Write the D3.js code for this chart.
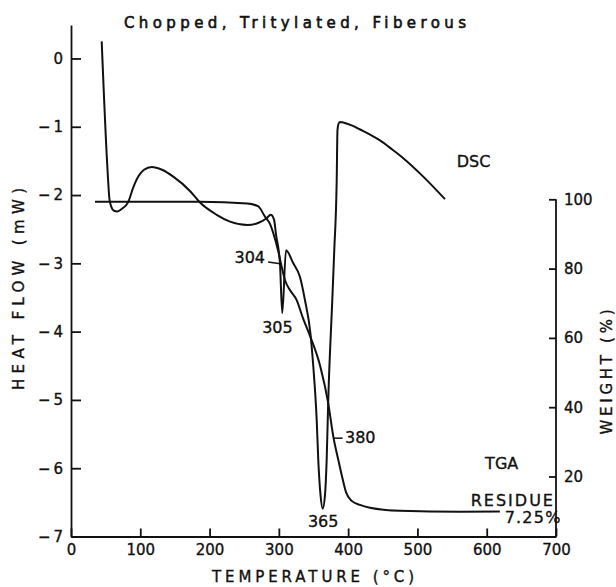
<!DOCTYPE html>
<html>
<head>
<meta charset="utf-8">
<script src="https://cdn.jsdelivr.net/npm/d3@7"></script>
<style>
  body { margin: 0; background: #fff; }
  text { font-family: "DejaVu Sans", sans-serif; fill: #111; stroke: #111; stroke-width: 0.35px; }
</style>
</head>
<body>
<div id="chart"></div>
<script>
// DSC trace: temperature (C) and heat flow (mW)
const dscTemp = [44.3, 52.7, 55.5, 58.5, 62, 66.8, 73.6, 82.7, 89.5, 97.1, 105.4, 116.5, 131.3, 147.6, 171.7, 186.2, 210.3, 229.5, 254.7, 269.9, 282.4, 288.2, 293, 295.9, 301.6, 304.9, 310.3, 320.8, 330.5, 337.7, 345.5, 349.7, 354.6, 356.9, 360.1, 363.3, 366.6, 369, 371.3, 377.1, 380, 383.5, 384.6, 386, 388.2, 394, 405, 417.1, 431, 446, 462, 479.6, 508.4, 539.8];
const dscFlow = [0.25, -1.63, -2.06, -2.18, -2.23, -2.24, -2.20, -2.10, -1.90, -1.73, -1.63, -1.59, -1.63, -1.73, -1.94, -2.11, -2.29, -2.39, -2.44, -2.41, -2.34, -2.29, -2.36, -2.58, -3.00, -3.73, -2.81, -3.00, -3.20, -3.54, -4.02, -4.51, -5.29, -5.88, -6.39, -6.59, -6.39, -5.88, -5.00, -3.54, -2.80, -1.78, -1.05, -0.96, -0.93, -0.94, -0.98, -1.04, -1.11, -1.20, -1.32, -1.46, -1.73, -2.06];

// TGA trace: temperature (C) and weight (%)
const tgaTemp = [34.6, 186.2, 254.7, 269.9, 280, 287.2, 292, 299.2, 304.1, 308.8, 316, 325.7, 334.8, 345.5, 359.9, 371.3, 378.6, 385.8, 391.1, 396.9, 405.5, 417.1, 431.5, 474.8, 561.4, 619];
const tgaWeight = [99.3, 99.3, 98.8, 98.0, 95.0, 92.9, 90.2, 84.9, 80.5, 76.7, 73.8, 70.9, 65.7, 60.3, 51.7, 41.1, 31.5, 24.8, 20.1, 15.5, 12.9, 11.8, 11.0, 10.1, 9.8, 9.9];

const tempTicks = [0, 100, 200, 300, 400, 500, 600, 700];
const flowTicks = [0, -1, -2, -3, -4, -5, -6, -7];
const weightTicks = [20, 40, 60, 80, 100];

// annotations: [text, temperature, heat flow, anchor]
const notes = [
  ["304", 280, -2.91, "end"],
  ["305", 298, -3.93, "middle"],
  ["380", 395.4, -5.54, "start"],
  ["365", 364, -6.78, "middle"],
  ["DSC", 581, -1.50, "middle"],
  ["TGA", 621.6, -5.93, "middle"]
];

const width = 616, height = 587;

const svg = d3.select("#chart").append("svg")
  .attr("width", width)
  .attr("height", height);

const x = d3.scaleLinear().domain([0, 700]).range([71, 556]);
const yL = d3.scaleLinear().domain([-7, 0.49]).range([536.5, 25]);
const yR = d3.scaleLinear().domain([0, 100]).range([545.8, 199.3]);

// bottom axis, ticks point inward
const xAxis = svg.append("g")
  .attr("transform", "translate(0," + yL(-7) + ")")
  .call(d3.axisBottom(x).tickValues(tempTicks).tickSize(-8).tickSizeOuter(0).tickPadding(8));

// left axis
const yAxisL = svg.append("g")
  .attr("transform", "translate(" + x(0) + ",0)")
  .call(d3.axisLeft(yL).tickValues(flowTicks).tickSize(-10).tickSizeOuter(0).tickPadding(8)
    .tickFormat(d => d === 0 ? "0" : "\u2212\u2009" + Math.abs(d)));

// right axis, line only from 100% down to the bottom axis
const yAxisR = svg.append("g")
  .attr("transform", "translate(" + x(700) + ",0)")
  .call(d3.axisRight(yR).tickValues(weightTicks).tickSize(-7).tickSizeOuter(0).tickPadding(8));
yAxisR.select(".domain").remove();
yAxisR.append("line")
  .attr("y1", yR(100)).attr("y2", yL(-7))
  .attr("stroke", "#111").attr("stroke-width", 1.8);

[xAxis, yAxisL, yAxisR].forEach(g => {
  g.selectAll("path, line").attr("stroke", "#111").attr("stroke-width", 1.8);
  g.selectAll("text").attr("font-family", "DejaVu Sans").attr("font-size", 15).attr("fill", "#111");
});

// curves
const line = d3.line().curve(d3.curveMonotoneX);

svg.append("path")
  .attr("d", line(dscTemp.map((t, i) => [x(t), yL(dscFlow[i])])))
  .attr("fill", "none").attr("stroke", "#111").attr("stroke-width", 2);

svg.append("path")
  .attr("d", line(tgaTemp.map((t, i) => [x(t), yR(tgaWeight[i])])))
  .attr("fill", "none").attr("stroke", "#111").attr("stroke-width", 2);

// leader lines
svg.append("line")
  .attr("x1", x(284.5)).attr("y1", yL(-2.98)).attr("x2", x(304.5)).attr("y2", yL(-3.01))
  .attr("stroke", "#111").attr("stroke-width", 1.5);
svg.append("line")
  .attr("x1", x(378.6)).attr("y1", yL(-5.56)).attr("x2", x(392)).attr("y2", yL(-5.56))
  .attr("stroke", "#111").attr("stroke-width", 1.5);

svg.selectAll(".note")
  .data(notes)
  .enter()
  .append("text")
  .attr("class", "note")
  .attr("x", d => x(d[1]))
  .attr("y", d => yL(d[2]))
  .attr("dy", "0.36em")
  .attr("text-anchor", d => d[3])
  .attr("font-size", 16)
  .text(d => d[0]);

svg.append("text")
  .attr("x", x(698.5)).attr("y", yL(-6.47)).attr("dy", "0.36em")
  .attr("text-anchor", "end").attr("font-size", 16).attr("letter-spacing", 2)
  .text("RESIDUE");
svg.append("text")
  .attr("x", x(708)).attr("y", yL(-6.72)).attr("dy", "0.36em")
  .attr("text-anchor", "end").attr("font-size", 16).attr("letter-spacing", 1.2)
  .text("7.25%");

// titles
svg.append("text")
  .attr("x", 295).attr("y", 28)
  .attr("text-anchor", "middle").attr("font-size", 15)
  .style("stroke-width", "0.6px")
  .attr("textLength", 342).attr("lengthAdjust", "spacing")
  .text("Chopped, Tritylated, Fiberous");

svg.append("text")
  .attr("x", 313).attr("y", 582)
  .attr("text-anchor", "middle").attr("font-size", 15)
  .attr("textLength", 202).attr("lengthAdjust", "spacing")
  .text("TEMPERATURE (°C)");

svg.append("text")
  .attr("transform", "translate(24,289) rotate(-90)")
  .attr("text-anchor", "middle").attr("font-size", 15)
  .attr("textLength", 202).attr("lengthAdjust", "spacing")
  .text("HEAT FLOW (mW)");

svg.append("text")
  .attr("transform", "translate(612,372) rotate(-90)")
  .attr("text-anchor", "middle").attr("font-size", 15)
  .attr("textLength", 125).attr("lengthAdjust", "spacing")
  .text("WEIGHT (%)");
</script>
</body>
</html>
